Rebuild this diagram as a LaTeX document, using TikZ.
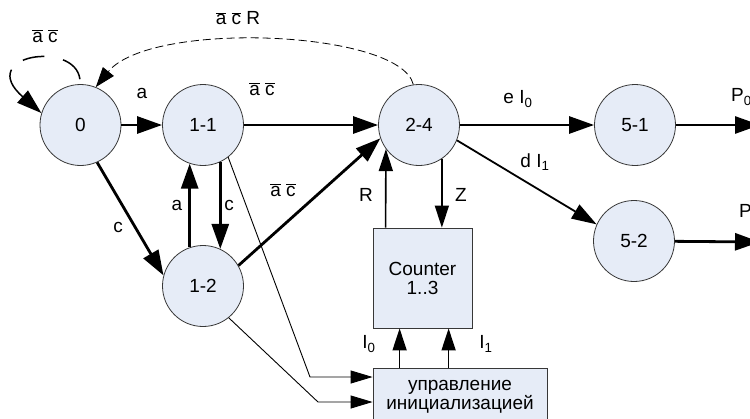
\documentclass[tikz,border=0pt]{standalone}
\usepackage{fontspec}
\setmainfont{Liberation Sans}
\usetikzlibrary{arrows.meta}
\definecolor{stfill}{RGB}{230,236,247}
\definecolor{stline}{RGB}{55,55,55}
\newcommand\ov[1]{$\overline{\mbox{#1}}$}
\begin{document}
\begin{tikzpicture}[x=1pt,y=-1pt,
  every node/.style={font=\fontsize{19}{19}\selectfont},
  state/.style={circle,draw=stline,line width=0.8pt,fill=stfill,minimum size=81pt,inner sep=0pt},
  blk/.style={rectangle,draw=stline,line width=0.8pt,fill=stfill,inner sep=0pt,align=center},
  lbl/.style={inner sep=0pt},
  big/.style={line width=2.8pt,-{Triangle[length=25pt,width=17pt]}},
  mid/.style={line width=1.6pt,-{Triangle[length=22pt,width=14pt]}},
  thin/.style={line width=0.9pt,-{Triangle[length=22pt,width=13pt]}}]
\clip (0,0) rectangle (750,418);
\fill[white] (0,0) rectangle (750,418);
% states
\node[state] (s0) at (80.5,125) {0};
\node[state] (s11) at (203,125) {1-1};
\node[state] (s12) at (203,286) {1-2};
\node[state] (s24) at (419,125) {2-4};
\node[state] (s51) at (635,125) {5-1};
\node[state] (s52) at (634,241) {5-2};
% counter and its init block
\node[blk,minimum width=99pt,minimum height=100pt] (cnt) at (422.5,278) {Counter\\1..3};
\node[blk,anchor=north,minimum width=174pt,minimum height=56pt] (ctl) at (460,368)
  {управление\\инициализацией};
\coordinate (p0) at (760,125);
\coordinate (p1) at (760,242);
\coordinate (k1) at (310,377);
\coordinate (k2) at (318,402);
\coordinate (i0) at ([xshift=27pt]cnt.south west);
\coordinate (i1) at ([xshift=76pt]cnt.south west);
% transitions
\draw[big] (s0) -- (s11);
\draw[big] (s0.-66) -- (s12.165);
\draw[big] (s11.-65) -- (s12.65);
\draw[big] (s12.109) -- (s11.-109);
\draw[big] (s11) -- (s24);
\draw[big] (s12.30) -- (s24.199);
\draw[big] (s24) -- (s51);
\draw[line width=1.8pt,-{Triangle[length=25pt,width=16pt]}] (s24.-22) -- (s52.156);
\draw[big] (s51) -- (p0);
\draw[big] (s52) -- (p1);
% self loop on 0, broken line
\draw[line width=1.5pt,dash pattern=on 27pt off 19pt on 22pt off 15pt on 200pt,
  shorten <=5pt,-{Triangle[length=25pt,width=16pt]}]
  (s0.north) .. controls (75,40) and (-25,55) .. (s0.163);
\draw[line width=0.8pt,dash pattern=on 8pt off 4pt,-{Triangle[length=20pt,width=14pt]}]
  (s24.98) .. controls (400,30) and (150,20) .. (s0.68);
\draw[mid] ([xshift=13pt]cnt.north west) -- (s24.216);
\draw[mid] (s24.-56) -- (s24.-56 |- cnt.north);
\draw[mid] (i0 |- ctl.north) -- (i0);
\draw[mid] (i1 |- ctl.north) -- (i1);
\draw[thin] (s11.-52) -- (k1) -- (k1 -| ctl.west);
\draw[thin] (s12.-51) -- (k2) -- (k2 -| ctl.west);
% labels
\node[lbl] (l1) at (45,36) {\ov{a} \ov{c}};
\node[lbl] (l2) at (238,18) {\ov{a} \ov{c} R};
\node[lbl] (l3) at (142,93) {a};
\node[lbl] (l4) at (262,89) {\ov{a} \ov{c}};
\node[lbl] (l5) at (118,227) {c};
\node[lbl] (l6) at (177,205) {a};
\node[lbl] (l7) at (229,205) {c};
\node[lbl] (l8) at (283,190) {\ov{a} \ov{c}};
\node[lbl] (l9) at (366,195) {R};
\node[lbl] (l10) at (461,195) {Z};
\node[lbl] (l11) at (518,99) {e I\textsubscript{0}};
\node[lbl] (l12) at (535,162) {d I\textsubscript{1}};
\node[lbl,anchor=west] (l13) at (731,97) {P\textsubscript{0}};
\node[lbl,anchor=west] (l14) at (739,213) {P\textsubscript{1}};
\node[lbl] (l15) at (369,344) {I\textsubscript{0}};
\node[lbl] (l16) at (486,344) {I\textsubscript{1}};
\end{tikzpicture}
\end{document}
